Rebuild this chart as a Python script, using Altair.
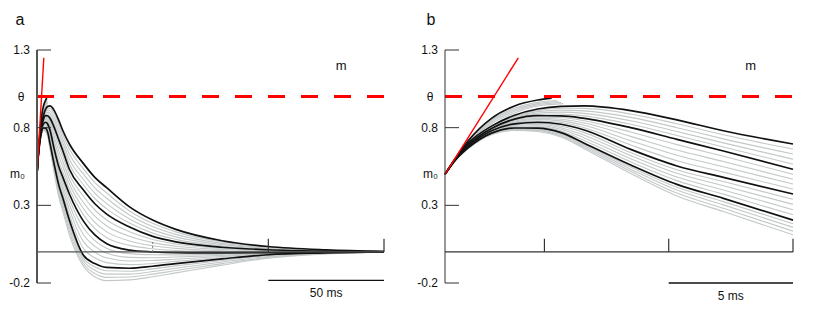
import altair as alt
import pandas as pd

# ---- time grid (ms) shared by the decaying curves ----
T = [0, 0.47, 0.93, 1.87, 2.8, 3.73, 4.67, 5.6, 7.47, 9.33, 11.2, 14,
     20, 25, 30, 40, 50, 60, 80, 100, 125, 150]

# group 1 curves stop once they reach the threshold
T_B1 = [0, 0.47, 0.93, 1.87, 2.8, 3.73, 4.29]
B1 = [0.5, 0.615, 0.715, 0.86, 0.94, 0.978, 0.99]
T_G1A = [0, 0.47, 0.93, 1.87, 2.8, 3.73, 4.48]
G1A = [0.5, 0.614, 0.712, 0.85, 0.925, 0.963, 0.975]
T_G1B = [0, 0.47, 0.93, 1.87, 2.8, 3.73, 4.57]
G1B = [0.5, 0.614, 0.71, 0.845, 0.915, 0.955, 0.968]
T_G1C = [0, 0.47, 0.93, 1.87, 2.8, 3.73, 4.67]
G1C = [0.5, 0.613, 0.707, 0.835, 0.905, 0.948, 0.962]
T_G1D = [0, 0.47, 0.93, 1.87, 2.8, 3.73, 4.76]
G1D = [0.5, 0.613, 0.705, 0.825, 0.895, 0.94, 0.955]

# black curves
B2 = [0.5, 0.612, 0.70, 0.81, 0.88, 0.92, 0.937, 0.94, 0.91, 0.85, 0.78, 0.695,
      0.57, 0.48, 0.415, 0.29, 0.205, 0.145, 0.072, 0.035, 0.014, 0.004]
B3 = [0.5, 0.61, 0.69, 0.795, 0.855, 0.877, 0.876, 0.86, 0.80, 0.725, 0.65, 0.532,
      0.40, 0.31, 0.245, 0.16, 0.10, 0.065, 0.03, 0.014, 0.005, 0.001]
B4 = [0.5, 0.605, 0.68, 0.78, 0.825, 0.835, 0.822, 0.785, 0.66, 0.553, 0.48, 0.373,
      0.20, 0.11, 0.055, 0.012, 0.0, -0.005, -0.006, -0.004, -0.002, 0.0]
B5 = [0.5, 0.60, 0.67, 0.765, 0.798, 0.797, 0.768, 0.70, 0.56, 0.435, 0.345, 0.205,
      -0.02, -0.075, -0.10, -0.105, -0.092, -0.075, -0.045, -0.018, -0.006, 0.0]

# grey curves
G2A = [0.5, 0.612, 0.698, 0.807, 0.875, 0.911, 0.925, 0.924, 0.888, 0.825, 0.754, 0.662,
       0.536, 0.446, 0.381, 0.264, 0.184, 0.129, 0.064, 0.031, 0.012, 0.003]
G2B = [0.5, 0.611, 0.696, 0.804, 0.870, 0.903, 0.913, 0.908, 0.866, 0.800, 0.728, 0.630,
       0.502, 0.412, 0.347, 0.238, 0.163, 0.113, 0.055, 0.027, 0.010, 0.003]
G2C = [0.5, 0.611, 0.694, 0.801, 0.865, 0.894, 0.900, 0.892, 0.844, 0.775, 0.702, 0.597,
       0.468, 0.378, 0.313, 0.212, 0.142, 0.097, 0.047, 0.022, 0.009, 0.002]
G2D = [0.5, 0.610, 0.692, 0.798, 0.860, 0.886, 0.888, 0.876, 0.822, 0.750, 0.676, 0.565,
       0.434, 0.344, 0.279, 0.186, 0.121, 0.081, 0.038, 0.018, 0.007, 0.002]
G3A = [0.5, 0.609, 0.688, 0.792, 0.849, 0.869, 0.865, 0.845, 0.772, 0.691, 0.616, 0.500,
       0.36, 0.27, 0.207, 0.130, 0.080, 0.051, 0.023, 0.010, 0.004, 0.001]
G3B = [0.5, 0.608, 0.686, 0.789, 0.843, 0.860, 0.854, 0.830, 0.744, 0.656, 0.582, 0.468,
       0.32, 0.23, 0.169, 0.101, 0.060, 0.037, 0.016, 0.007, 0.002, 0.0]
G3C = [0.5, 0.607, 0.684, 0.786, 0.837, 0.852, 0.844, 0.815, 0.716, 0.622, 0.548, 0.437,
       0.28, 0.19, 0.131, 0.071, 0.040, 0.023, 0.008, 0.003, 0.001, 0.0]
G3D = [0.5, 0.606, 0.682, 0.783, 0.831, 0.843, 0.833, 0.800, 0.688, 0.587, 0.514, 0.405,
       0.24, 0.15, 0.093, 0.042, 0.020, 0.009, 0.001, 0.0, -0.001, 0.0]
G4A = [0.5, 0.604, 0.678, 0.777, 0.820, 0.827, 0.811, 0.768, 0.64, 0.529, 0.453, 0.339,
       0.156, 0.073, 0.024, -0.011, -0.018, -0.019, -0.014, -0.007, -0.003, 0.0]
G4B = [0.5, 0.603, 0.676, 0.774, 0.814, 0.820, 0.800, 0.751, 0.62, 0.506, 0.426, 0.306,
       0.112, 0.036, -0.007, -0.035, -0.037, -0.033, -0.022, -0.010, -0.004, 0.0]
G4C = [0.5, 0.602, 0.674, 0.771, 0.809, 0.812, 0.790, 0.734, 0.60, 0.482, 0.399, 0.272,
       0.068, -0.001, -0.038, -0.058, -0.055, -0.047, -0.029, -0.012, -0.004, 0.0]
G4D = [0.5, 0.601, 0.672, 0.768, 0.803, 0.805, 0.779, 0.717, 0.58, 0.459, 0.372, 0.239,
       0.024, -0.038, -0.069, -0.082, -0.074, -0.061, -0.037, -0.015, -0.005, 0.0]
G5A = [0.5, 0.600, 0.669, 0.763, 0.794, 0.792, 0.761, 0.691, 0.546, 0.416, 0.324, 0.181,
       -0.038, -0.096, -0.121, -0.124, -0.109, -0.090, -0.055, -0.024, -0.008, 0.0]
G5B = [0.5, 0.599, 0.668, 0.760, 0.790, 0.786, 0.754, 0.683, 0.533, 0.398, 0.303, 0.158,
       -0.055, -0.118, -0.143, -0.143, -0.126, -0.105, -0.065, -0.029, -0.010, 0.0]
G5C = [0.5, 0.599, 0.666, 0.758, 0.786, 0.781, 0.747, 0.674, 0.519, 0.379, 0.281, 0.134,
       -0.073, -0.139, -0.164, -0.161, -0.143, -0.120, -0.075, -0.035, -0.011, 0.0]
G5D = [0.5, 0.598, 0.665, 0.755, 0.782, 0.775, 0.740, 0.665, 0.505, 0.360, 0.260, 0.110,
       -0.090, -0.160, -0.185, -0.180, -0.160, -0.135, -0.085, -0.040, -0.013, 0.0]

# red tangent line at t=0
TAN_T = [0, 2.95]
TAN_V = [0.5, 1.25]

# axis text
YTICK_VALUES = [1.3, 0.8, 0.3, -0.2]
YTICK_TEXT = ["1.3", "0.8", "0.3", "-0.2"]
THETA = 1.0
M0 = 0.5
Y_MIN, Y_MAX = -0.2, 1.3

curves = [
    ("B1", T_B1, B1, "black"), ("G1A", T_G1A, G1A, "grey"), ("G1B", T_G1B, G1B, "grey"),
    ("G1C", T_G1C, G1C, "grey"), ("G1D", T_G1D, G1D, "grey"),
    ("B2", T, B2, "black"), ("G2A", T, G2A, "grey"), ("G2B", T, G2B, "grey"),
    ("G2C", T, G2C, "grey"), ("G2D", T, G2D, "grey"),
    ("B3", T, B3, "black"), ("G3A", T, G3A, "grey"), ("G3B", T, G3B, "grey"),
    ("G3C", T, G3C, "grey"), ("G3D", T, G3D, "grey"),
    ("B4", T, B4, "black"), ("G4A", T, G4A, "grey"), ("G4B", T, G4B, "grey"),
    ("G4C", T, G4C, "grey"), ("G4D", T, G4D, "grey"),
    ("B5", T, B5, "black"), ("G5A", T, G5A, "grey"), ("G5B", T, G5B, "grey"),
    ("G5C", T, G5C, "grey"), ("G5D", T, G5D, "grey"),
]
rows = []
for name, ts, vs, kind in curves:
    for t, v in zip(ts, vs):
        rows.append({"curve": name, "t": t, "v": v, "kind": kind})
df = pd.DataFrame(rows)
grey_df = df[df.kind == "grey"]
black_df = df[df.kind == "black"]
tan_df = pd.DataFrame({"t": TAN_T, "v": TAN_V})
ytick_df = pd.DataFrame({"v": YTICK_VALUES, "label": YTICK_TEXT})

FONT = "Liberation Sans"
H = 233


def panel(letter, xmax, width, xticks, faint_ticks, bar, bar_v, bar_label, bar_lab_v, m_t,
          m0_x, m0_align, axis_color, axis_w, letter_x, theta_x):
    xs = alt.Scale(domain=[0, xmax], nice=False, zero=False)
    ys = alt.Scale(domain=[Y_MIN, Y_MAX], nice=False, zero=False)
    X = alt.X("t:Q", scale=xs, axis=None)
    Y = alt.Y("v:Q", scale=ys, axis=None)

    g = grey_df[grey_df.t <= xmax]
    b = black_df[black_df.t <= xmax]
    grey = alt.Chart(g).mark_line(interpolate="monotone", color="#c3c8c8",
                                  strokeWidth=1.1).encode(x=X, y=Y, detail="curve:N")
    black = alt.Chart(b).mark_line(interpolate="monotone", color="#111111",
                                   strokeWidth=1.7).encode(x=X, y=Y, detail="curve:N")

    seg = pd.DataFrame({"t": [0], "t2": [xmax], "v": [THETA]})
    thr = alt.Chart(seg).mark_rule(color="#ff0000", strokeWidth=3,
                                   strokeDash=[17, 16]).encode(x=X, x2="t2:Q", y=Y)
    tan = alt.Chart(tan_df).mark_line(color="#ff0000", strokeWidth=1.4).encode(x=X, y=Y)

    ax_df = pd.DataFrame({"t": [0], "v": [Y_MIN], "v2": [Y_MAX]})
    yaxis = alt.Chart(ax_df).mark_rule(color=axis_color, strokeWidth=axis_w).encode(
        x=X, y=Y, y2="v2:Q")
    z_df = pd.DataFrame({"t": [0], "t2": [xmax], "v": [0.0]})
    zero = alt.Chart(z_df).mark_rule(color=axis_color, strokeWidth=1.3).encode(
        x=X, x2="t2:Q", y=Y)

    yt = alt.Chart(ytick_df).mark_rule(color="#333333", strokeWidth=1).encode(
        x=alt.value(0), x2=alt.value(14), y=Y)
    ylab = alt.Chart(ytick_df).mark_text(align="right", baseline="middle", dx=-7,
                                         fontSize=12, font=FONT, color="#111").encode(
        x=alt.value(0), y=Y, text="label:N")
    th_df = pd.DataFrame({"v": [THETA], "label": ["θ"]})
    theta_lab = alt.Chart(th_df).mark_text(align="center", baseline="middle",
                                           fontSize=12, font=FONT, color="#111").encode(
        x=alt.value(theta_x), y=Y, text="label:N")
    m0_df = pd.DataFrame({"v": [M0], "label": ["m₀"]})
    m0_lab = alt.Chart(m0_df).mark_text(align=m0_align, baseline="middle",
                                        fontSize=12, font=FONT, color="#111").encode(
        x=alt.value(m0_x), y=Y, text="label:N")

    xt_df = pd.DataFrame({"t": xticks, "v": [0.0] * len(xticks), "v2": [0.085] * len(xticks)})
    xt = alt.Chart(xt_df).mark_rule(color="#333333", strokeWidth=1.2).encode(
        x=X, y=Y, y2="v2:Q")

    bar_df = pd.DataFrame({"t": [bar[0]], "t2": [bar[1]], "v": [bar_v]})
    sbar = alt.Chart(bar_df).mark_rule(color="#111111", strokeWidth=1.4).encode(
        x=X, x2="t2:Q", y=Y)
    bl_df = pd.DataFrame({"t": [(bar[0] + bar[1]) / 2], "v": [bar_lab_v], "label": [bar_label]})
    sbar_lab = alt.Chart(bl_df).mark_text(align="center", baseline="middle",
                                          fontSize=12, font=FONT, color="#111").encode(
        x=X, y=Y, text="label:N")
    m_df = pd.DataFrame({"t": [m_t], "v": [1.195], "label": ["m"]})
    m_lab = alt.Chart(m_df).mark_text(align="center", baseline="middle",
                                      fontSize=13, font=FONT, color="#111").encode(
        x=X, y=Y, text="label:N")
    let_df = pd.DataFrame({"label": [letter]})
    let = alt.Chart(let_df).mark_text(align="center", baseline="middle",
                                      fontSize=16, font=FONT, color="#111").encode(
        x=alt.value(letter_x), y=alt.value(-30), text="label:N")

    layers = [grey, black, thr, tan, yaxis, zero, yt, xt]
    if faint_ticks:
        fx_df = pd.DataFrame({"t": faint_ticks, "v": [0.0] * len(faint_ticks),
                              "v2": [0.075] * len(faint_ticks)})
        fxt = alt.Chart(fx_df).mark_rule(color="#777777", strokeWidth=1,
                                         strokeDash=[2, 2]).encode(x=X, y=Y, y2="v2:Q")
        layers.append(fxt)
    layers += [ylab, theta_lab, m0_lab, sbar, sbar_lab, m_lab, let]
    return alt.layer(*layers).properties(width=width, height=H)


left = panel("a", 150, 347, [100, 150], [50], [100, 150], -0.183, "50 ms", -0.265, 131.5,
             -27, "left", "#555555", 2, -17, -16)
right = panel("b", 14, 348, [4, 9, 14], [], [9, 14], -0.2, "5 ms", -0.285, 12.3,
              -7, "right", "#333333", 1, -14, -15)

chart = alt.hconcat(left, right, spacing=28).properties(
    padding={"left": 0, "top": 3, "right": 0, "bottom": 0}
).configure_view(stroke="transparent")

chart.save("out.html", embed_options={"renderer": "svg", "actions": False})
